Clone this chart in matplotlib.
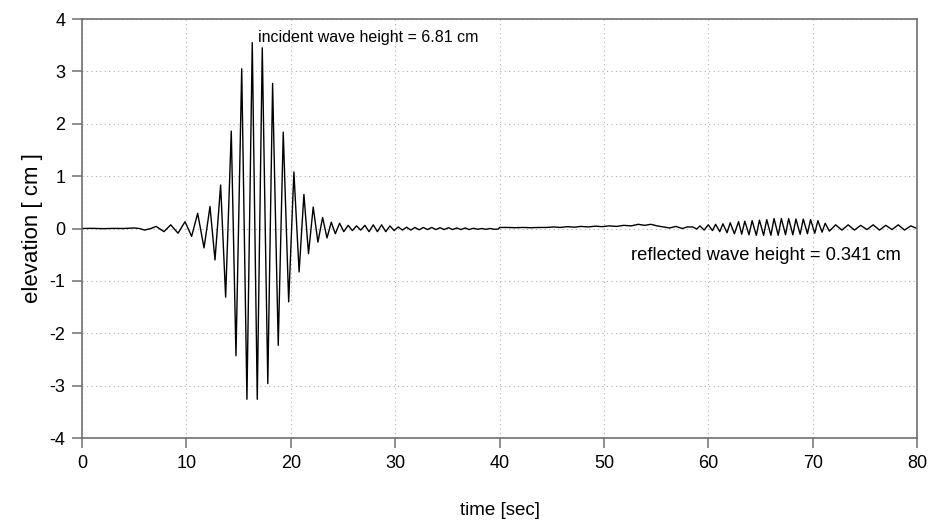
import numpy as np
import matplotlib
matplotlib.use("Agg")
import matplotlib.pyplot as plt

plt.rcParams['font.family'] = ['Liberation Sans', 'DejaVu Sans']
plt.rcParams['axes.unicode_minus'] = False

# wave gauge record, read off the picture as crest / trough points
# quiet start + incident wave packet
packet_t = [0.0, 1.0, 2.0, 3.0, 4.0, 4.5, 5.0, 5.5, 6.0, 6.6, 7.1, 7.85, 8.5, 9.2,
            9.87, 10.5, 11.08, 11.69, 12.26, 12.74, 13.28, 13.76, 14.3, 14.75,
            15.3, 15.8, 16.31, 16.79, 17.27, 17.8, 18.26, 18.8, 19.28, 19.8,
            20.3, 20.8, 21.26, 21.7, 22.15, 22.6, 23.05, 23.47, 23.88, 24.27, 24.68]
packet_eta = [0.0, 0.003, -0.003, 0.002, 0.0, 0.006, 0.01, 0.0, -0.03, 0.0, 0.04, -0.06, 0.07, -0.09,
              0.13, -0.15, 0.29, -0.37, 0.42, -0.60, 0.83, -1.31, 1.86, -2.43,
              3.05, -3.26, 3.55, -3.26, 3.45, -2.96, 2.77, -2.23, 1.84, -1.40,
              1.08, -0.83, 0.65, -0.48, 0.41, -0.26, 0.21, -0.18, 0.12, -0.10, 0.10]

# short-period tail behind the packet
tail_t = [25.08, 25.5, 25.9, 26.3, 26.7, 27.1, 27.5, 27.9, 28.3, 28.7, 29.1, 29.5,
          29.9, 30.3, 30.7, 31.1, 31.5, 31.9, 32.3, 32.7, 33.1, 33.5, 33.9, 34.3,
          34.7, 35.1, 35.5, 35.9, 36.3, 36.7, 37.1, 37.5, 37.9, 38.3, 38.7, 39.1,
          39.5, 39.9]
tail_eta = [-0.06, 0.06, -0.04, 0.05, -0.03, 0.06, -0.06, 0.07, -0.06, 0.07, -0.06, 0.05,
            -0.04, 0.03, -0.03, 0.025, -0.03, 0.02, -0.025, 0.02, -0.02, 0.02, -0.02, 0.015,
            -0.02, 0.015, -0.02, 0.01, -0.02, 0.01, -0.02, 0.005, -0.015, 0.0, -0.015, 0.0,
            -0.015, -0.01]

# near-still water
still_t = [40.0, 40.8, 41.5, 42.3, 43.0, 43.8, 44.5, 45.2, 45.8, 46.5, 47.2, 47.8,
           48.5, 49.2, 49.8, 50.5, 51.2, 51.9, 52.6, 53.3, 53.9, 54.5, 55.1, 55.7,
           56.3, 56.9, 57.5, 58.0]
still_eta = [0.02, 0.02, 0.015, 0.02, 0.015, 0.02, 0.02, 0.03, 0.02, 0.035, 0.025, 0.04,
             0.03, 0.045, 0.035, 0.05, 0.04, 0.06, 0.05, 0.08, 0.06, 0.08, 0.05, 0.03,
             0.01, 0.04, 0.0, 0.03]

# reflected wave train
refl_t = [58.5, 58.9, 59.2, 59.6, 60.0, 60.4, 60.7, 61.1, 61.4, 61.8, 62.1, 62.5,
          62.9, 63.2, 63.5, 63.9, 64.2, 64.6, 64.9, 65.3, 65.6, 66.0, 66.3, 66.7,
          67.0, 67.4, 67.7, 68.1, 68.4, 68.8, 69.1, 69.5, 69.8, 70.2, 70.5, 70.9,
          71.2, 71.6, 72.2, 72.8, 73.4, 74.0, 74.6, 75.2, 75.8, 76.4, 77.0, 77.6,
          78.2, 78.8, 79.4, 80.0]
refl_eta = [0.03, -0.01, 0.05, -0.03, 0.07, -0.04, 0.08, -0.06, 0.09, -0.08, 0.11, -0.10,
            0.13, -0.11, 0.14, -0.12, 0.15, -0.13, 0.16, -0.13, 0.17, -0.13, 0.19, -0.13,
            0.19, -0.12, 0.19, -0.12, 0.18, -0.11, 0.18, -0.10, 0.17, -0.09, 0.15, -0.07,
            0.10, -0.05, 0.07, -0.03, 0.07, -0.03, 0.06, -0.02, 0.07, -0.03, 0.06, -0.02,
            0.07, -0.03, 0.05, 0.0]

t = np.concatenate([packet_t, tail_t, still_t, refl_t])
eta = np.concatenate([packet_eta, tail_eta, still_eta, refl_eta])

x_ticks = [0, 10, 20, 30, 40, 50, 60, 70, 80]
y_ticks = [-4, -3, -2, -1, 0, 1, 2, 3, 4]

fig = plt.figure(figsize=(9.33, 5.22), dpi=100)
ax = fig.add_axes([0.0879, 0.1609, 0.895, 0.8027])

ax.plot(t, eta, color='black', lw=1.0)

ax.set_xlim(0, 80)
ax.set_ylim(-4, 4)
ax.set_xticks(x_ticks)
ax.set_yticks(y_ticks)
ax.grid(True, color='#b0b0b0', lw=0.8, linestyle=(0, (1, 3)))

for side in ['left', 'bottom', 'top', 'right']:
    ax.spines[side].set_color('#707070')
    ax.spines[side].set_linewidth(1.2)
ax.tick_params(direction='out', length=7, width=1.1, color='#707070',
               labelsize=13, pad=5)

ax.set_xlabel('time [sec]', fontsize=13.5, labelpad=22)
ax.set_ylabel('elevation [ cm ]', fontsize=16, labelpad=5)

ax.text(16.86, 3.64, 'incident wave height = 6.81 cm', fontsize=11.5, va='center')
ax.text(52.6, -0.52, 'reflected wave height = 0.341 cm', fontsize=13.2, va='center')

fig.savefig('out.png', dpi=100)
